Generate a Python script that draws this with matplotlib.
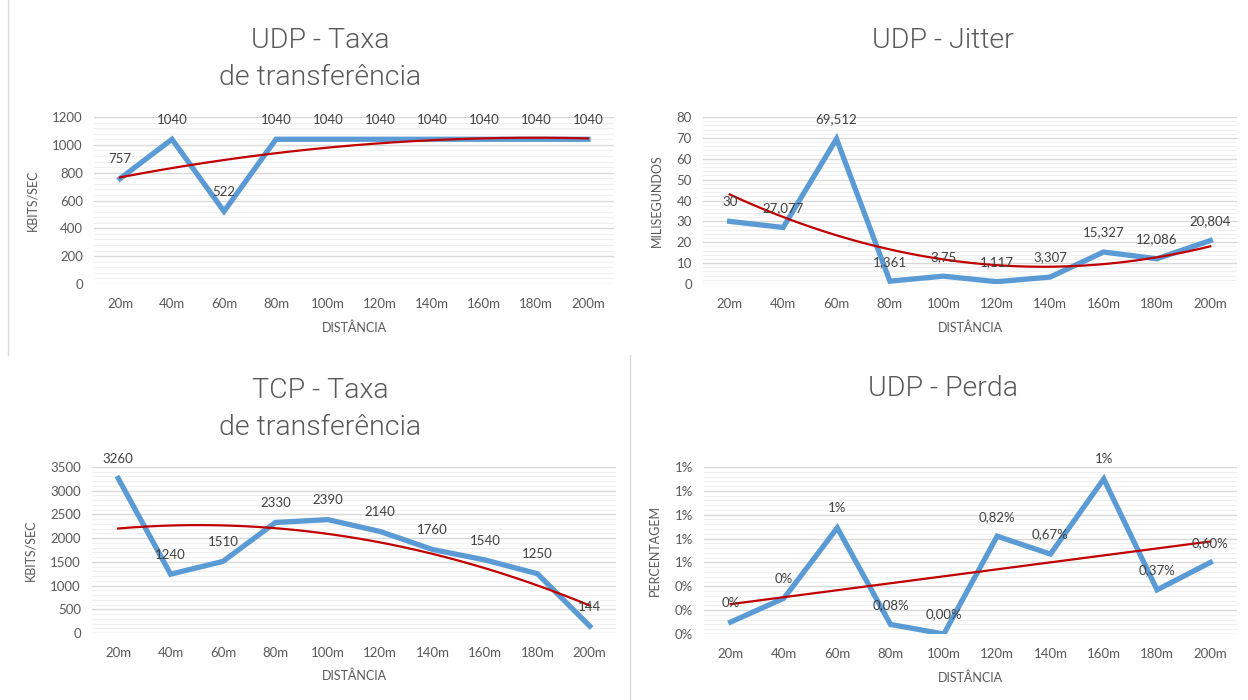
import numpy as np
import matplotlib
matplotlib.use("Agg")
import matplotlib.pyplot as plt
from matplotlib.ticker import MultipleLocator, FuncFormatter
from matplotlib.lines import Line2D

plt.rcParams['font.family'] = ['Lato', 'DejaVu Sans']

# ---- data ----
distancias = ["20m", "40m", "60m", "80m", "100m", "120m", "140m", "160m", "180m", "200m"]

udp_taxa = [757, 1040, 522, 1040, 1040, 1040, 1040, 1040, 1040, 1040]
udp_taxa_labels = ["757", "1040", "522", "1040", "1040", "1040", "1040", "1040", "1040", "1040"]

udp_jitter = [30, 27.077, 69.512, 1.361, 3.75, 1.117, 3.307, 15.327, 12.086, 20.804]
udp_jitter_labels = ["30", "27,077", "69,512", "1,361", "3,75", "1,117", "3,307", "15,327", "12,086", "20,804"]

tcp_taxa = [3260, 1240, 1510, 2330, 2390, 2140, 1760, 1540, 1250, 144]
tcp_taxa_labels = ["3260", "1240", "1510", "2330", "2390", "2140", "1760", "1540", "1250", "144"]

udp_perda = [0.0010, 0.0030, 0.0089, 0.0008, 0.0000, 0.0082, 0.0067, 0.0130, 0.0037, 0.0060]
udp_perda_labels = ["0%", "0%", "1%", "0,08%", "0,00%", "0,82%", "0,67%", "1%", "0,37%", "0,60%"]

W, H = 1248, 700
fig = plt.figure(figsize=(W / 100, H / 100), dpi=100)
fig.patch.set_facecolor("white")

BLUE = "#5B9BD5"
RED = "#C00000"
GRID_MAJ = "#D9D9D9"
GRID_MIN = "#F0F0F0"
TXT = "#595959"
LBL = "#404040"


def px(l, t, r, b):
    return [l / W, 1 - b / H, (r - l) / W, (b - t) / H]


def panel(rect, values, labels, ymax, ystep, ylabel, deg, fmt=None):
    ax = fig.add_axes(px(*rect))
    x = np.arange(len(distancias))
    ax.set_xlim(-0.5, len(distancias) - 0.5)
    ax.set_ylim(0, ymax)
    ax.yaxis.set_major_locator(MultipleLocator(ystep))
    ax.yaxis.set_minor_locator(MultipleLocator(ystep / 5))
    if fmt is not None:
        ax.yaxis.set_major_formatter(FuncFormatter(fmt))
    ax.grid(which="major", axis="y", color=GRID_MAJ, lw=1.0, zorder=0)
    ax.grid(which="minor", axis="y", color=GRID_MIN, lw=0.8, zorder=0)
    ax.set_axisbelow(True)
    for s in ax.spines.values():
        s.set_visible(False)
    ax.set_xticks(x)
    ax.set_xticklabels(distancias)
    ax.tick_params(axis="both", which="both", length=0, labelsize=9.5, colors=TXT)
    ax.tick_params(axis="x", pad=10)
    ax.tick_params(axis="y", pad=8)
    ax.plot(x, values, color=BLUE, lw=3.8, solid_joinstyle="miter", zorder=3)
    coef = np.polyfit(x + 1, values, deg)
    xf = np.linspace(0, len(distancias) - 1, 200)
    ax.plot(xf, np.polyval(coef, xf + 1), color=RED, lw=1.6, zorder=4)
    for xi, v, t in zip(x, values, labels):
        ax.annotate(t, (xi, v), xytext=(0, 14), textcoords="offset points",
                    ha="center", va="center", fontsize=9.5, color=LBL, zorder=5,
                    annotation_clip=False)
    ax.set_xlabel("DISTÂNCIA", fontsize=9, color=TXT, labelpad=8)
    ax.set_ylabel(ylabel, fontsize=9, color=TXT, labelpad=10)
    return ax


panel((94, 117, 614, 284), udp_taxa, udp_taxa_labels, 1200, 200, "KBITS/SEC", 2)
panel((703, 117, 1237, 284), udp_jitter, udp_jitter_labels, 80, 10, "MILISEGUNDOS", 2)
panel((92, 467, 616, 633), tcp_taxa, tcp_taxa_labels, 3500, 500, "KBITS/SEC", 2)
panel((704, 467, 1237, 634), udp_perda, udp_perda_labels, 0.014, 0.002, "PERCENTAGEM", 1,
      fmt=lambda v, p: f"{v * 100:.0f}%")

TS = 20.5
TF = dict(fontsize=TS, color=TXT, family=["Roboto", "Lato", "DejaVu Sans"], fontweight=300,
          ha="center", va="center")
fig.text(320 / W, 1 - 59 / H, "UDP - Taxa\nde transferência", linespacing=1.5, **TF)
fig.text(943 / W, 1 - 40 / H, "UDP - Jitter", **TF)
fig.text(320 / W, 1 - 409 / H, "TCP - Taxa\nde transferência", linespacing=1.5, **TF)
fig.text(943 / W, 1 - 388 / H, "UDP - Perda", **TF)

# chart borders
fig.add_artist(Line2D([8 / W, 8 / W], [1, 1 - 355 / H], transform=fig.transFigure,
                      color="#D9D9D9", lw=1))
fig.add_artist(Line2D([630 / W, 630 / W], [1 - 355 / H, 0], transform=fig.transFigure,
                      color="#D9D9D9", lw=1))

fig.savefig("out.png", dpi=100, facecolor="white")
